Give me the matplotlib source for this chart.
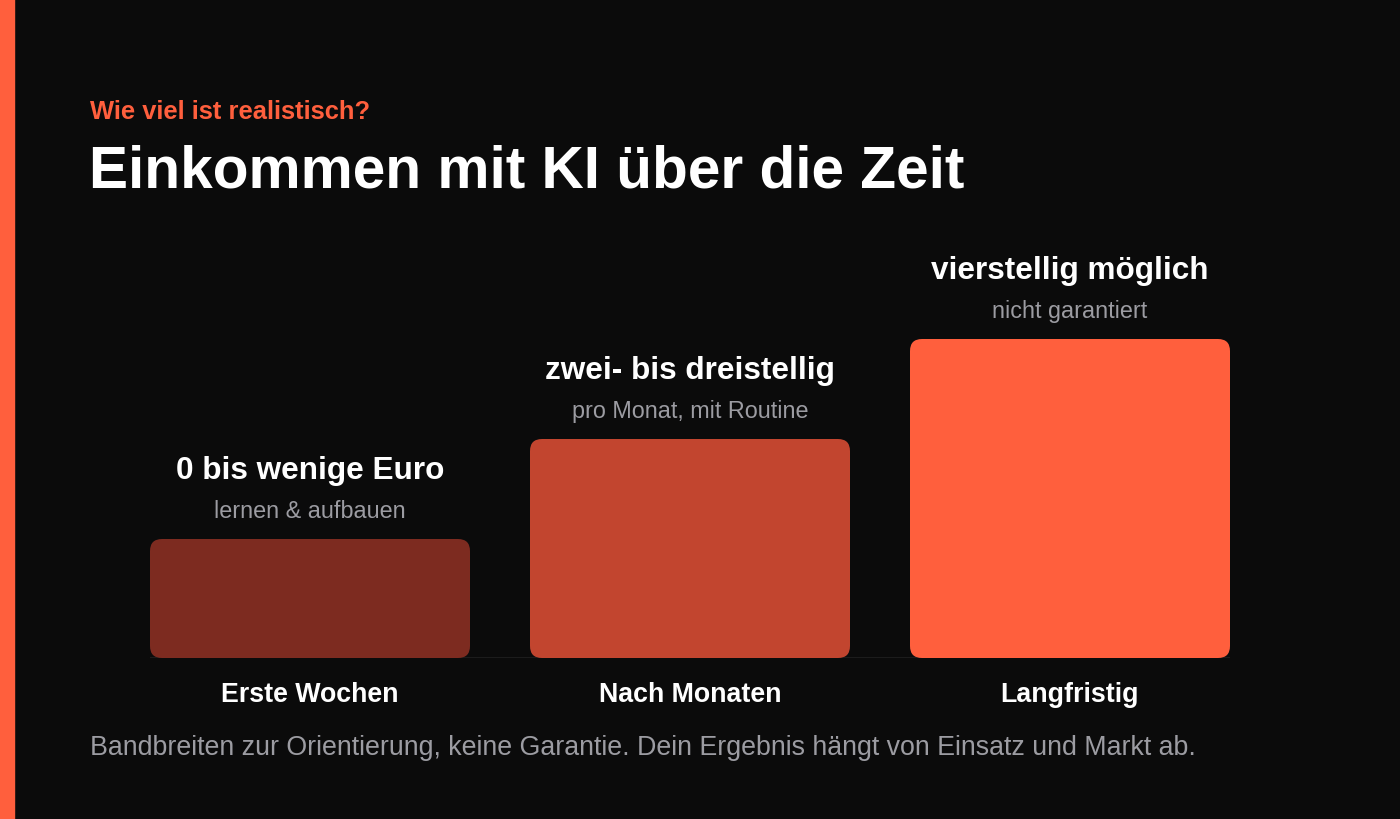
import matplotlib
matplotlib.use("Agg")
import matplotlib.pyplot as plt
from matplotlib.patches import FancyBboxPatch, Rectangle

plt.rcParams['font.family'] = ['Liberation Sans', 'DejaVu Sans']

categories = ['Erste Wochen', 'Nach Monaten', 'Langfristig']
heights = [119, 219, 319]
value_labels = ['0 bis wenige Euro', 'zwei- bis dreistellig', 'vierstellig möglich']
value_notes = ['lernen & aufbauen', 'pro Monat, mit Routine', 'nicht garantiert']
bar_colors = ['#7d2b20', '#c2452f', '#ff5f3d']

kicker = 'Wie viel ist realistisch?'
title = 'Einkommen mit KI über die Zeit'
footer = 'Bandbreiten zur Orientierung, keine Garantie. Dein Ergebnis hängt von Einsatz und Markt ab.'

bg = '#0b0b0b'
accent = '#ff5f3d'
grey = '#9c9ca2'

fig = plt.figure(figsize=(14, 8.2), dpi=100, facecolor=bg)
fig.patches.append(Rectangle((0, 0), 14 / 1400, 1, transform=fig.transFigure,
                             color=accent, zorder=5))

W, H = 1400, 820
ax = fig.add_axes([150 / W, 161 / H, 1080 / W, 420 / H])
ax.set_facecolor(bg)
width = 320 / 380
ax.set_xlim(-width / 2, len(categories) - 1 + width / 2)
ax.set_ylim(0, 420)
for s in ax.spines.values():
    s.set_visible(False)
ax.set_xticks([])
ax.set_yticks([])

bars = ax.bar(range(len(categories)), heights, width, color=bar_colors)
# swap plain bars for rounded ones (12 px corners)
aspect = 380.0  # y data units per x data unit in pixels
for b, c in zip(bars, bar_colors):
    b.set_visible(False)
    p = FancyBboxPatch((b.get_x(), b.get_y()), b.get_width(), b.get_height(),
                       boxstyle='round,pad=0,rounding_size=%f' % (12 / 380),
                       mutation_aspect=aspect, facecolor=c, edgecolor='none', zorder=3)
    ax.add_patch(p)

ax.axhline(0, color='#222222', lw=1.8, zorder=2)

px = 72 / 100
for i, (h, lab, note, cat) in enumerate(zip(heights, value_labels, value_notes, categories)):
    ax.annotate(lab, (i, h), xytext=(0, 61 * px), textcoords='offset points',
                ha='center', va='baseline', color='white', fontsize=22.7,
                fontweight='bold', annotation_clip=False)
    ax.annotate(note, (i, h), xytext=(0, 22 * px), textcoords='offset points',
                ha='center', va='baseline', color=grey, fontsize=16.8,
                annotation_clip=False)
    ax.annotate(cat, (i, 0), xytext=(0, -43 * px), textcoords='offset points',
                ha='center', va='baseline', color='white', fontsize=19.3,
                fontweight='bold', annotation_clip=False)

fig.text(90 / W, 1 - 119 / H, kicker, color=accent, fontsize=18.4, fontweight='bold',
         ha='left', va='baseline')
fig.text(89 / W, 1 - 187 / H, title, color='white', fontsize=42.2, fontweight='bold',
         ha='left', va='baseline')
fig.text(90 / W, 1 - 755 / H, footer, color=grey, fontsize=19.3,
         ha='left', va='baseline')

fig.savefig('out.png', dpi=100, facecolor=bg)
